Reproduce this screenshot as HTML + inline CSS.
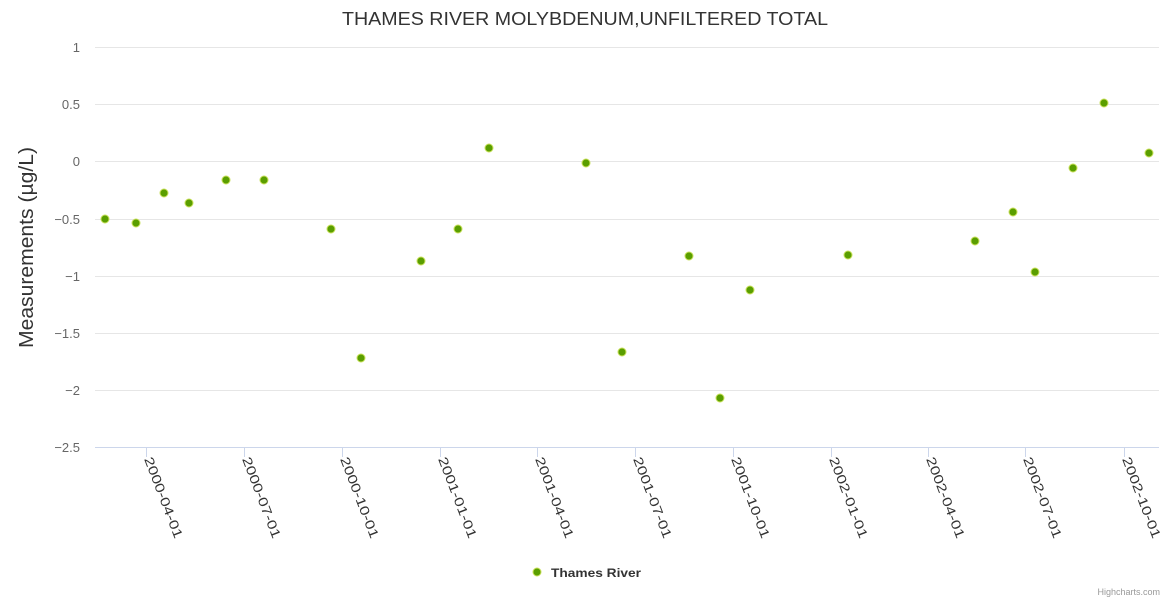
<!DOCTYPE html>
<html><head><meta charset="utf-8"><style>body{margin:0;background:#fff}svg{display:block;font-family:"Liberation Sans","DejaVu Sans",sans-serif}</style></head>
<body>
<svg width="1170" height="600" xmlns="http://www.w3.org/2000/svg">
<rect width="1170" height="600" fill="#fff"/>
<text x="342" y="25" textLength="486" lengthAdjust="spacingAndGlyphs" font-size="18" fill="#333">THAMES RIVER MOLYBDENUM,UNFILTERED TOTAL</text>
<g stroke="#e6e6e6" stroke-width="1">
<line x1="95" x2="1159" y1="47.5" y2="47.5"/>
<line x1="95" x2="1159" y1="104.5" y2="104.5"/>
<line x1="95" x2="1159" y1="161.5" y2="161.5"/>
<line x1="95" x2="1159" y1="219.5" y2="219.5"/>
<line x1="95" x2="1159" y1="276.5" y2="276.5"/>
<line x1="95" x2="1159" y1="333.5" y2="333.5"/>
<line x1="95" x2="1159" y1="390.5" y2="390.5"/>
</g>
<line x1="95" x2="1159" y1="447.5" y2="447.5" stroke="#ccd6eb"/>
<g font-size="13" fill="#666" text-anchor="end">
<text x="80" y="52">1</text>
<text x="80" y="109">0.5</text>
<text x="80" y="166">0</text>
<text x="80" y="224">−0.5</text>
<text x="80" y="281">−1</text>
<text x="80" y="338">−1.5</text>
<text x="80" y="395">−2</text>
<text x="80" y="452">−2.5</text>
</g>
<text transform="translate(33,348) rotate(-90)" textLength="201" lengthAdjust="spacingAndGlyphs" font-size="20" fill="#333">Measurements (µg/L)</text>
<g stroke="#ccd6eb">
<line x1="146.5" x2="146.5" y1="447" y2="457"/>
<line x1="244.5" x2="244.5" y1="447" y2="457"/>
<line x1="342.5" x2="342.5" y1="447" y2="457"/>
<line x1="440.5" x2="440.5" y1="447" y2="457"/>
<line x1="537.5" x2="537.5" y1="447" y2="457"/>
<line x1="635.5" x2="635.5" y1="447" y2="457"/>
<line x1="733.5" x2="733.5" y1="447" y2="457"/>
<line x1="831.5" x2="831.5" y1="447" y2="457"/>
<line x1="928.5" x2="928.5" y1="447" y2="457"/>
<line x1="1025.5" x2="1025.5" y1="447" y2="457"/>
<line x1="1124.5" x2="1124.5" y1="447" y2="457"/>
</g>
<g font-size="13" fill="#333">
<text transform="translate(144,459) rotate(69)" textLength="86" lengthAdjust="spacingAndGlyphs">2000-04-01</text>
<text transform="translate(242,459) rotate(69)" textLength="86" lengthAdjust="spacingAndGlyphs">2000-07-01</text>
<text transform="translate(340,459) rotate(69)" textLength="86" lengthAdjust="spacingAndGlyphs">2000-10-01</text>
<text transform="translate(438,459) rotate(69)" textLength="86" lengthAdjust="spacingAndGlyphs">2001-01-01</text>
<text transform="translate(535,459) rotate(69)" textLength="86" lengthAdjust="spacingAndGlyphs">2001-04-01</text>
<text transform="translate(633,459) rotate(69)" textLength="86" lengthAdjust="spacingAndGlyphs">2001-07-01</text>
<text transform="translate(731,459) rotate(69)" textLength="86" lengthAdjust="spacingAndGlyphs">2001-10-01</text>
<text transform="translate(829,459) rotate(69)" textLength="86" lengthAdjust="spacingAndGlyphs">2002-01-01</text>
<text transform="translate(926,459) rotate(69)" textLength="86" lengthAdjust="spacingAndGlyphs">2002-04-01</text>
<text transform="translate(1023,459) rotate(69)" textLength="86" lengthAdjust="spacingAndGlyphs">2002-07-01</text>
<text transform="translate(1122,459) rotate(69)" textLength="86" lengthAdjust="spacingAndGlyphs">2002-10-01</text>
</g>
<g fill="#5a9e00" stroke="#c8e05a" stroke-width="1">
<circle cx="105" cy="219" r="4"/><circle cx="136" cy="223" r="4"/><circle cx="164" cy="193" r="4"/>
<circle cx="189" cy="203" r="4"/><circle cx="226" cy="180" r="4"/><circle cx="264" cy="180" r="4"/>
<circle cx="331" cy="229" r="4"/><circle cx="361" cy="358" r="4"/><circle cx="421" cy="261" r="4"/>
<circle cx="458" cy="229" r="4"/><circle cx="489" cy="148" r="4"/><circle cx="586" cy="163" r="4"/>
<circle cx="622" cy="352" r="4"/><circle cx="689" cy="256" r="4"/><circle cx="720" cy="398" r="4"/>
<circle cx="750" cy="290" r="4"/><circle cx="848" cy="255" r="4"/><circle cx="975" cy="241" r="4"/>
<circle cx="1013" cy="212" r="4"/><circle cx="1035" cy="272" r="4"/><circle cx="1073" cy="168" r="4"/>
<circle cx="1104" cy="103" r="4"/><circle cx="1149" cy="153" r="4"/>
<circle cx="537" cy="572" r="4"/>
</g>
<text x="551" y="577" textLength="90" lengthAdjust="spacingAndGlyphs" font-size="12" font-weight="bold" fill="#333">Thames River</text>
<text x="1160" y="595" text-anchor="end" font-size="9" fill="#999">Highcharts.com</text>
</svg>
</body></html>
